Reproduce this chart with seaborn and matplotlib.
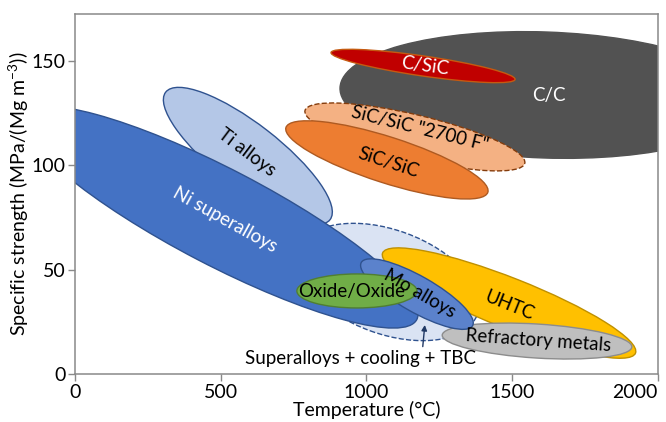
import matplotlib
matplotlib.use("Agg")
import matplotlib.pyplot as plt
import matplotlib.transforms as mtransforms
from matplotlib.patches import Ellipse
import seaborn as sns

# material regions: centre temperature (C) and centre specific strength
materials = ["C/C", "C/SiC", 'SiC/SiC "2700 F"', "SiC/SiC",
             "Superalloys + cooling + TBC", "UHTC", "Refractory metals",
             "Ti alloys", "Ni superalloys", "Mo alloys", "Oxide/Oxide"]
temp_c = [1612, 1194, 1166, 1070, 1074, 1489, 1585, 593, 497, 1173, 967]
strength = [133.7, 147.6, 113.6, 102.6, 44.1, 34.0, 15.8, 104.5, 75.2, 38.3, 39.8]

# region shapes (semi axes in px, tilt in degrees)
semi_a = [205, 93, 113, 106, 95, 136, 95, 104, 222, 64, 60]
semi_b = [63, 10, 22, 23, 52, 25, 17, 32, 48, 18, 17]
tilt = [-2, -8.3, -13.5, -17.8, -20, -21.6, -3.6, -37.8, -27.5, -29.6, 0]

x_ticks = [0, 500, 1000, 1500, 2000]
y_ticks = [0, 50, 100, 150]

fills = ["#525252", "#C00000", "#F4B183", "#ED7D31", "#DAE3F3", "#FFC000",
         "#BFBFBF", "#B4C7E7", "#4472C4", "#5B82CC", "#70AD47"]
edges = ["#525252", "#C55A11", "#843C0C", "#AE5A21", "#2F528F", "#BF9000",
         "#8C8C8C", "#2F528F", "#2F528F", "#2F528F", "#507E32"]
dashed = ['SiC/SiC "2700 F"', "Superalloys + cooling + TBC"]

sns.set_theme(style="ticks")
plt.rcParams['font.family'] = ['Lato', 'DejaVu Sans']
plt.rcParams['mathtext.fontset'] = 'custom'
plt.rcParams['mathtext.rm'] = 'Lato'
plt.rcParams['mathtext.it'] = 'Lato'

fig = plt.figure(figsize=(6.66, 4.22), dpi=100)
ax = fig.add_axes([0.1126, 0.1137, 0.8754, 0.8531])
ax.set_xlim(0, 2000)
ax.set_ylim(0, 172.5)
ax.set_autoscale_on(False)

for i, name in enumerate(materials):
    offset = mtransforms.ScaledTranslation(temp_c[i], strength[i], ax.transData)
    e = Ellipse((0, 0), 2 * semi_a[i], 2 * semi_b[i], angle=tilt[i],
                transform=offset, facecolor=fills[i], edgecolor=edges[i],
                lw=1.0, linestyle="--" if name in dashed else "-", zorder=2 + i * 0.01)
    ax.add_patch(e)

# labels inside the regions
fs = 13.5
label_style = dict(ha="center", va="center", fontsize=fs, zorder=5)
ax.text(1625, 133.5, "C/C", color="white", **label_style)
ax.text(1200, 147.5, "C/SiC", color="white", rotation=-8, **label_style)
ax.text(1182, 117.5, 'SiC/SiC "2700 F"', color="black", rotation=-14, **label_style)
ax.text(1074, 101.5, "SiC/SiC", color="black", rotation=-18, **label_style)
ax.text(590, 106, "Ti alloys", color="black", rotation=-37, **label_style)
ax.text(515, 74, "Ni superalloys", color="white", rotation=-29, **label_style)
ax.text(950, 39.5, "Oxide/Oxide", color="black", **label_style)
ax.text(1183, 38.5, "Mo alloys", color="black", rotation=-30, **label_style)
ax.text(1492, 33, "UHTC", color="black", rotation=-22, **label_style)
ax.text(1588, 15.8, "Refractory metals", color="black", rotation=-4, **label_style)

ax.annotate("Superalloys + cooling + TBC", xy=(1200, 23.5), xytext=(978, 7.5),
            ha="center", va="center", fontsize=fs, color="black", zorder=6,
            arrowprops=dict(arrowstyle="-|>", color="#203864", lw=1,
                            mutation_scale=8, shrinkA=0, shrinkB=0,
                            relpos=(0.77, 1.0)))

ax.set_xticks(x_ticks)
ax.set_yticks(y_ticks)
ax.tick_params(axis="both", direction="out", length=5, width=1, color="#898989",
               labelsize=14, labelcolor="black", pad=2)
ax.get_xticklabels()[-1].set_horizontalalignment("right")
for sp in ax.spines.values():
    sp.set_color("#898989")
    sp.set_linewidth(1.1)

ax.set_xlabel("Temperature (°C)", fontsize=14, color="black", labelpad=0)
ax.set_ylabel(r"Specific strength (MPa/(Mg m$^{-3}$))", fontsize=14,
              color="black", labelpad=0.5)

fig.savefig("out.png", dpi=100)
